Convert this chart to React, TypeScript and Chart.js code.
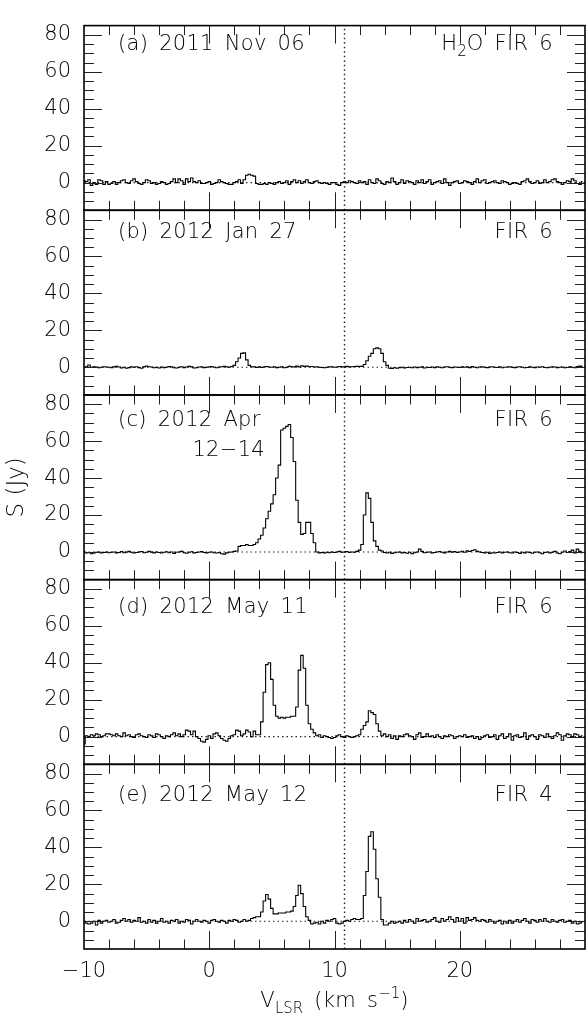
import React, { useEffect, useRef } from 'react';
import { Chart, registerables } from 'chart.js';

Chart.register(...registerables);

// ---------- data ----------
const V_START = -10;
const CHANNEL_WIDTH = 0.2;
const N_CHANNELS = 200;
const velocities: number[] = Array.from({ length: N_CHANNELS }, (_, i) => +(V_START + CHANNEL_WIDTH * i).toFixed(2));

const X_MIN = -10;
const X_MAX = 30;
const Y_MIN = -15;
const Y_MAX = 85;
const V_REF = 10.8;

const xTickLabels = [-10, 0, 10, 20];
const yTickLabels = [0, 20, 40, 60, 80];

const panelDates = ['(a) 2011 Nov 06', '(b) 2012 Jan 27', '(c) 2012 Apr', '(d) 2012 May 11', '(e) 2012 May 12'];
const panelSources = ['FIR 6', 'FIR 6', 'FIR 6', 'FIR 6', 'FIR 4'];

const specA = [
  1, 0.5, 1.5, -1.5, 0, -1, 1.5, 1, -1, 0.5,
  -1, -0.5, 0.5, -1, 0, 1, 1.5, 0, -0.5, 1,
  2, 0.5, -0.5, -1, 0, 1.5, 1, -0.5, 0, -1,
  -0.5, 0.5, 0, -1, -0.5, 0.5, 2, 0, 2, 1,
  -1, 2, 0.5, 2.5, 0.5, 0, 1, -0.5, -0.5, 0,
  0.5, -1, -0.5, 0, 1.5, 0.5, 0, -0.5, -1, -1,
  0, 0.5, 1.5, -0.5, 1.5, 4, 4.5, 4, 3.5, -0.5,
  -1, -1, -0.5, -1, 0, -0.5, -1, 0, 0.5, -0.5,
  0, 1, -1, 0.5, 1.5, 0, 1, -0.5, 0.5, 1.5,
  0, -0.5, 0.5, 1, 0, -0.5, 0, -0.5, -1, 0,
  0, -1, -1.5, 0, 0.5, 0, 1, 0.5, 0, -0.5,
  1, 0, 0.5, -1, 1.5, 0, -0.5, 2, 1, -0.5,
  -1, 0.5, 0, 2.5, 0.5, -1, 0, 1.5, -0.5, 1,
  0.5, 0, -1, 1, 0, 1.5, -0.5, 0.5, 1.5, -1,
  0, 0.5, 1, -0.5, 2, 0, -1.5, 0, 0.5, 1,
  -0.5, 0, 1, 0.5, 0, -1, 0.5, 2, 0, 1,
  1.5, -0.5, 0, 0.5, 1, 0, -0.5, 1, 0.5, 0,
  -1, -0.5, 0, -0.5, -1, 0.5, 1, 2, 0.5, -0.5,
  0, 1, -0.5, 0, 1.5, 0, 0.5, 1.5, 2, 0.5,
  0, -1, 0, 1, 0.5, 2, 1, -0.5, -1, 0.5,
];

const specB = [
  0.3, 0.2, 1.2, 0, 0.2, 0.1, -0.2, 0, 0.3, 0.1,
  0, -0.3, 0.2, 0.5, 0.1, -0.4, 0, -0.5, -0.2, 0.2,
  0, 0.3, -0.2, -0.5, 0.2, 0.6, 0.3, 0.1, -0.3, 0,
  -0.4, 0.1, -0.2, 0, 0.4, 0.2, -0.3, -0.4, 0, 0.3,
  -0.2, 0.1, 0.5, 0.2, -0.4, -0.3, 0.1, 0.3, -0.2, 0,
  0.2, 0.4, 0, -0.3, 0.1, 0.3, 0.5, 0.2, 0, 0.4,
  1, 3, 5, 7.5, 7.8, 4, 1, 0.3, 0.2, -0.1,
  0.2, -0.1, 0.3, 0.4, 0.1, 0, 0.3, -0.2, 0, 0.2,
  -0.3, 0, 0.5, 0.3, 0.2, 0.6, 0.2, 0.8, 0.5, 0.6,
  0.3, 0.4, 0.1, 0.2, 0, -0.1, -0.3, 0, 0.2, 0.3,
  0, 0.1, 0.4, 0.2, 0.3, 0.5, 0.2, 0.3, 0.4, 0.5,
  0.5, 0.5, 1.5, 3.5, 6, 7.5, 10, 10.5, 10, 7.5,
  3, 1, -0.5, -0.6, -0.3, -0.5, -0.2, 0, -0.4, -0.1,
  0, -0.3, 0.1, -0.2, 0, 0.2, -0.4, 0, -0.1, 0.1,
  -0.2, 0.2, 0, -0.3, 0.1, 0.3, 0, -0.2, 0.1, 0,
  -0.1, 0.2, 0, 0.3, -0.2, 0.4, 0, -0.3, 0.1, 0.2,
  0, -0.2, 0.1, 0.3, 0, -0.1, 0.2, -0.3, 0, 0.1,
  0.2, 0, -0.2, 0.1, 0.3, 0, -0.3, -0.1, 0.2, 0,
  -0.2, 0.1, 0, 0.3, -0.1, -0.3, 0, 0.2, 0.1, -0.2,
  0, 0.1, -0.3, -0.1, 0.2, 0, -0.2, 0.4, 0.6, 0.5,
];

const specC = [
  0, -0.5, -0.3, -1, -0.5, -0.2, 0, -0.6, -0.3, -0.1,
  -0.4, -0.2, 0, -0.5, -0.3, 0.2, -0.4, -0.1, 0.3, -0.2,
  -0.6, -0.3, 0, 0.2, -0.4, -0.2, 0.3, -0.1, -0.5, 0,
  -0.3, -0.6, -0.2, 0.1, -0.4, 0, -0.8, -0.2, 0, 0.3,
  -0.4, -0.7, -0.2, 0.1, -0.5, -0.3, 0, 0.2, -0.3, -0.5,
  -0.2, 0, -0.4, -0.6, -0.3, -1, -1.2, -0.5, -0.2, 0,
  0.3, 0.5, 3, 3.5, 3.5, 4, 3.5, 3.5, 4, 5,
  7, 9, 13, 18, 22, 26, 31, 40, 47, 66,
  67, 68, 69, 62, 49, 28, 16, 9.5, 10, 16,
  16, 10, 5, 0, -0.5, -0.3, -0.5, -0.2, -0.4, 0,
  -0.3, 0, 0.3, -0.2, 0, 0.2, -0.3, 0, -0.2, 0.3,
  1, 4, 20, 32, 29, 16, 6, 3, 1, 0.5,
  -0.3, -0.6, -0.2, -0.8, -0.4, -0.2, 0, -0.5, -0.3, -0.7,
  -0.2, -1, -0.4, 0, 1.5, 0.3, -0.4, -0.2, 0, -0.5,
  -0.3, 0, 0.2, -0.2, -0.5, 0, 0.3, -0.1, 0.2, -0.3,
  0, 0.4, -0.2, 0.6, 0.2, 0.8, 1.2, 0.3, 0, -0.3,
  -0.5, -0.2, -0.8, -0.4, -0.6, -0.3, 0, -0.5, -0.2, 0,
  -0.4, -0.6, 0, -0.3, -0.8, -0.2, -0.5, 0, -0.3, -0.7,
  -0.2, 0, -0.4, -1, -0.3, 0, -0.5, -0.2, 0.3, -0.6,
  -1, -0.2, 0.5, -0.3, 0.2, 1, -0.5, 1.5, 0.3, -0.4,
];

const specD = [
  -4, 0.5, 0, 1, 0.5, 1.5, 1, 0, 0.5, 1.5,
  1.5, 1, 0.5, 1.5, 0.5, 0, 2, 0.5, 1, 0,
  -0.5, 1, 1.5, 0.5, 0, -0.5, 1, 0.5, -0.5, 1.5,
  1, 0, -1, 0.5, 0, 1, 2, 0.5, 1.5, 0,
  1, 3.5, 3, 1, 3, 0, -1, -2.5, -3, -1.5,
  0.5, -1, 1.5, 2, 0.5, -1, -2, -2.5, -1, 0.5,
  1, 3.5, 3, 0.5, 1.5, 3.5, 2.5, 0, 3, 1,
  1, 8, 24, 39, 40, 31, 17, 11, 10, 10.5,
  10, 10.5, 10.5, 11, 11, 16, 36, 44, 37, 17,
  7, 4, 2, 0.5, 1, -0.5, 0.5, 0, -0.5, -1,
  -0.5, 0.5, 1, 0, -0.5, 0.5, 0, -0.5, 0, 0.5,
  1, 4, 6, 8, 14, 13, 12, 7, 3, 0.5,
  1.5, 0, 1, -1, 0.5, -1.5, 0.5, 0, 1, 1.5,
  0.5, 0, -1.5, 1, 2, -0.5, 0, 1.5, 0, 0.5,
  -0.5, 1, 0, -1, 0.5, 0, 1, 0.5, -1, 0,
  0.5, 0, 1, -0.5, 0, 0.5, -1, 0, -1.5, -0.5,
  0.5, 1, -0.5, 0, 1, -1.5, 0.5, 1.5, -1, 0,
  1.5, -2, 0.5, 1, -0.5, 0, 2, -1.5, 0.5, 1,
  0, -1.5, 1, 0.5, -0.5, 1.5, 0, -1, 0.5, 2,
  1, -2, 0.5, 1.5, 1, 0, 1.5, 1, 0, 0.5,
];

const specE = [
  0, -1, -1.5, -1, 0, -2, 0.5, -1, 0, 0.5,
  -0.5, 0, 1, -1, -0.5, 0.5, 1.5, 0, 1, -0.5,
  0.5, 0, 2, -0.5, 0, -1, 1, -0.5, 0.5, -1,
  0, 1.5, -0.5, 0, -1, 0.5, 0, 1, -1, 0,
  -0.5, 1, 0.5, -1.5, 0, 1, 0, -0.5, 0.5, 0,
  -1, 0.5, 1, 0, -0.5, 0.5, 0, -1, 0.5, 0,
  1, 0.5, -0.5, 0, 1, 0, 0.5, 1.5, 2, 2.5,
  2.5, 5, 11, 14.5, 12, 7, 4, 4, 4.5, 4.5,
  4.5, 5, 5, 5.5, 8, 14, 19.5, 15, 8, 2.5,
  0.5, -1.5, -1, -0.5, -1.5, 0, -1, 0.5, 0, 1,
  1.5, -1, -1.5, -1, 0, 0.5, 0, 1, 1.5, 1,
  1, 1.5, 14, 27, 46, 48.5, 39, 23, 13, 1,
  -2, -2, -1, 0, -1, -0.5, 0, -1, 0.5, -0.5,
  1, 0, -1, 1.5, 0, 0.5, 1, -0.5, 0, 1,
  2, 0, -0.5, 1.5, 0, 1, 2.5, 1, -0.5, 2,
  0, 1.5, -1, 2, 0.5, 1, 2, 0.5, 0, 1,
  0.5, -0.5, 1, 0, -1, 0, 0.5, -1.5, 0, -1,
  0.5, -1, 0, 1, -0.5, 0.5, 1.5, 0, -1, 1,
  0.5, -0.5, 1, 0, 1.5, 0, -0.5, 1, 0, -0.5,
  0.5, 1, -0.5, 0, 0.5, -1, 0, -1.5, -1, -0.5,
];

const spectra = [specA, specB, specC, specD, specE];
const PANEL_KEYS = ['y0', 'y1', 'y2', 'y3', 'y4'];

// ---------- layout / style ----------
const W = 586;
const H = 1013;
const AREA_LEFT = 84;
const AREA_TOP = 10;
const AREA_BOTTOM = 949;
const PANEL_H = (AREA_BOTTOM - AREA_TOP) / 5;
const FONT_FAMILY = "'DejaVu Sans', 'Liberation Sans', sans-serif";
const TEXT_COLOR = '#000';
const tickFont = { family: FONT_FAMILY, size: 21, weight: '200' as any };
const titleFont = { family: FONT_FAMILY, size: 23, weight: '200' as any };

const fmt = (v: number) => (v < 0 ? '\u2212' + Math.abs(v) : String(v));

const framePlugin = {
  id: 'panelFrames',
  afterDatasetsDraw(chart: any) {
    const { ctx, chartArea } = chart;
    const xs = chart.scales.x;
    const left = chartArea.left;
    const right = chartArea.right;
    ctx.save();
    PANEL_KEYS.forEach((key) => {
      const ys = chart.scales[key];
      const top = ys.top;
      const bottom = ys.bottom;
      ctx.lineWidth = 1;
      ctx.strokeStyle = '#222';
      ctx.beginPath();
      for (let v = Y_MIN + 5; v < Y_MAX; v += 5) {
        const len = v % 20 === 0 ? 18 : 10;
        const py = Math.round(ys.getPixelForValue(v)) + 0.5;
        ctx.moveTo(left, py);
        ctx.lineTo(left + len, py);
        ctx.moveTo(right, py);
        ctx.lineTo(right - len, py);
      }
      for (let v = X_MIN + 2; v < X_MAX; v += 2) {
        const len = v % 10 === 0 ? 18 : 9.5;
        const px = Math.round(xs.getPixelForValue(v)) + 0.5;
        ctx.moveTo(px, top);
        ctx.lineTo(px, top + len);
        ctx.moveTo(px, bottom);
        ctx.lineTo(px, bottom - len);
      }
      ctx.stroke();
      ctx.lineWidth = 1.6;
      ctx.strokeStyle = '#000';
      ctx.strokeRect(left, top, right - left, bottom - top);
    });
    ctx.restore();
  },
};

const textBase: React.CSSProperties = {
  position: 'absolute',
  fontFamily: FONT_FAMILY,
  fontWeight: 200,
  fontSize: 21,
  lineHeight: '24px',
  color: TEXT_COLOR,
  whiteSpace: 'pre',
  letterSpacing: '0.3px',
  wordSpacing: '4px',
};

const subStyle: React.CSSProperties = { fontSize: 15, position: 'relative', top: 6, letterSpacing: 0 };
const supStyle: React.CSSProperties = { fontSize: 15, position: 'relative', top: -9, letterSpacing: 0 };

export default function App() {
  const canvasRef = useRef<HTMLCanvasElement | null>(null);

  useEffect(() => {
    if (!canvasRef.current) return;
    const datasets: any[] = [];
    spectra.forEach((s, k) => {
      datasets.push({
        type: 'line',
        data: velocities.map((v, i) => ({ x: v, y: s[i] })),
        yAxisID: PANEL_KEYS[k],
        stepped: 'middle',
        borderColor: '#000',
        borderWidth: 1.1,
        pointRadius: 0,
        fill: false,
      });
      datasets.push({
        type: 'line',
        data: [{ x: X_MIN, y: 0 }, { x: X_MAX, y: 0 }],
        yAxisID: PANEL_KEYS[k],
        borderColor: '#222',
        borderWidth: 1.1,
        borderDash: [1.5, 3],
        pointRadius: 0,
        fill: false,
      });
      datasets.push({
        type: 'line',
        data: [{ x: V_REF, y: Y_MIN }, { x: V_REF, y: Y_MAX }],
        yAxisID: PANEL_KEYS[k],
        borderColor: '#222',
        borderWidth: 1.4,
        borderDash: [1.5, 3],
        pointRadius: 0,
        fill: false,
      });
    });

    const scales: any = {
      x: {
        type: 'linear',
        position: 'bottom',
        min: X_MIN,
        max: X_MAX,
        grid: { display: false, drawTicks: false },
        border: { display: false },
        afterBuildTicks: (s: any) => {
          s.ticks = xTickLabels.map((v) => ({ value: v }));
        },
        afterFit: (s: any) => {
          s.height = H - AREA_BOTTOM;
        },
        ticks: {
          padding: 10,
          font: tickFont,
          color: TEXT_COLOR,
          maxRotation: 0,
          autoSkip: false,
          callback: (v: any) => fmt(Number(v)),
        },
      },
    };
    PANEL_KEYS.forEach((key, k) => {
      scales[key] = {
        type: 'linear',
        position: 'left',
        stack: 'panels',
        stackWeight: 1,
        weight: 4 - k,
        min: Y_MIN,
        max: Y_MAX,
        grid: { display: false, drawTicks: false },
        border: { display: false },
        afterBuildTicks: (s: any) => {
          s.ticks = yTickLabels.map((v) => ({ value: v }));
        },
        afterFit: (s: any) => {
          s.width = AREA_LEFT;
        },
        ticks: {
          padding: 13,
          font: tickFont,
          color: TEXT_COLOR,
          autoSkip: false,
          callback: (v: any) => fmt(Number(v)),
        },
        title: k === 2
          ? { display: true, text: 'S (Jy)', font: titleFont, color: TEXT_COLOR, padding: { top: 3, bottom: 0 } }
          : { display: false },
      };
    });

    const chart = new Chart(canvasRef.current, {
      type: 'line',
      data: { datasets },
      options: {
        responsive: false,
        animation: false,
        devicePixelRatio: 1,
        layout: { padding: { top: AREA_TOP, right: 1, left: 0, bottom: 0 } },
        plugins: { legend: { display: false }, tooltip: { enabled: false } },
        scales,
      },
      plugins: [framePlugin],
    } as any);
    return () => chart.destroy();
  }, []);

  const panelTop = (k: number) => AREA_TOP + k * PANEL_H;

  return (
    <div style={{ position: 'absolute', left: 0, top: 0, width: W, height: H, background: '#fff' }}>
      <canvas ref={canvasRef} width={W} height={H} style={{ position: 'absolute', left: 0, top: 0, width: W, height: H }} />
      {panelDates.map((d, k) => (
        <div key={'d' + k} style={{ ...textBase, left: 118, top: panelTop(k) + 33 - 12 }}>{d}</div>
      ))}
      <div style={{ ...textBase, right: W - 265, textAlign: 'right', top: panelTop(2) + 63 - 12 }}>12{'\u2212'}14</div>
      {panelSources.map((s, k) => (
        <div key={'s' + k} style={{ ...textBase, right: W - 553, textAlign: 'right', top: panelTop(k) + 33 - 12 }}>
          {k === 0 ? (
            <span>
              H<span style={subStyle}>2</span>O {s}
            </span>
          ) : (
            s
          )}
        </div>
      ))}
      <div style={{ ...textBase, left: 84, width: 501, textAlign: 'center', top: 1000 - 12 }}>
        V<span style={subStyle}>LSR</span> (km s<span style={supStyle}>{'\u2212'}1</span>)
      </div>
    </div>
  );
}
